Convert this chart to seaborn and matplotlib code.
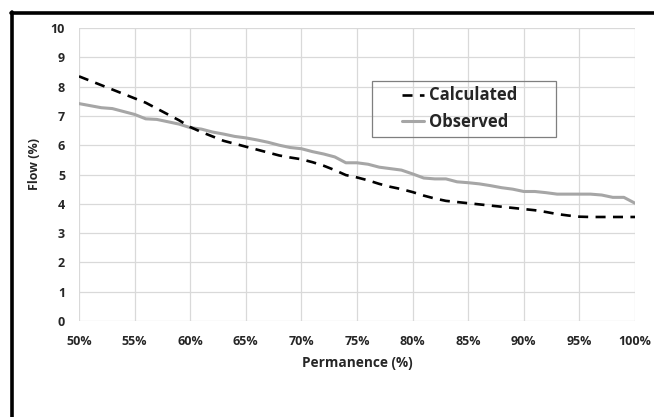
import numpy as np
import pandas as pd
import matplotlib
matplotlib.use("Agg")
import matplotlib.pyplot as plt
import seaborn as sns
from matplotlib.lines import Line2D
from matplotlib.patches import Rectangle
from matplotlib.ticker import FuncFormatter

permanence = list(range(50, 101))
calculated = [8.35, 8.2, 8.05, 7.9, 7.75, 7.6, 7.45, 7.25, 7.05, 6.85,
              6.62, 6.45, 6.3, 6.15, 6.05, 5.95, 5.85, 5.75, 5.65, 5.58,
              5.52, 5.42, 5.3, 5.15, 4.98, 4.9, 4.8, 4.68, 4.58, 4.5,
              4.4, 4.28, 4.18, 4.1, 4.06, 4.02, 3.98, 3.94, 3.9, 3.86,
              3.82, 3.78, 3.72, 3.65, 3.6, 3.56, 3.55, 3.55, 3.55, 3.55, 3.55]
observed = [7.42, 7.35, 7.28, 7.25, 7.15, 7.05, 6.9, 6.88, 6.8, 6.72,
            6.6, 6.55, 6.45, 6.38, 6.3, 6.25, 6.18, 6.1, 6.0, 5.92,
            5.88, 5.78, 5.7, 5.6, 5.4, 5.4, 5.35, 5.25, 5.2, 5.15,
            5.02, 4.88, 4.85, 4.85, 4.75, 4.72, 4.68, 4.62, 4.55, 4.5,
            4.42, 4.42, 4.38, 4.33, 4.33, 4.33, 4.33, 4.3, 4.22, 4.22, 4.02]
x_ticks = [50, 55, 60, 65, 70, 75, 80, 85, 90, 95, 100]
y_ticks = list(range(0, 11))

sns.set_style("white")
plt.rcParams['font.family'] = ['Open Sans', 'DejaVu Sans']
WT = 'bold'

fig = plt.figure(figsize=(6.54, 4.17), dpi=100)
W, H = 654, 417
ax = fig.add_axes([79 / W, 1 - 321 / H, (635 - 79) / W, (321 - 28) / H])

df = pd.DataFrame({"Permanence": permanence, "Calculated": calculated, "Observed": observed})

sns.lineplot(data=df, x="Permanence", y="Observed", ax=ax, color="#a6a6a6",
             linewidth=2.2, label="Observed", zorder=3)
sns.lineplot(data=df, x="Permanence", y="Calculated", ax=ax, color="black",
             linewidth=1.9, label="Calculated", zorder=4)
ax.lines[1].set_dashes([3.8, 2.8])

ax.set_xlim(50, 100)
ax.set_ylim(0, 10)
ax.set_xticks(x_ticks)
ax.set_yticks(y_ticks)
ax.xaxis.set_major_formatter(FuncFormatter(lambda v, p: f"{int(v)}%"))
ax.grid(True, color="#d9d9d9", linewidth=0.9)
ax.set_axisbelow(True)
for s in ax.spines.values():
    s.set_visible(False)
ax.tick_params(axis="both", length=0, labelsize=9)
ax.tick_params(axis="x", pad=10)
ax.tick_params(axis="y", pad=10)
for lab in ax.get_xticklabels() + ax.get_yticklabels():
    lab.set_fontweight(WT)

ax.set_xlabel("Permanence (%)", fontsize=9.8, fontweight=WT)
ax.set_ylabel("Flow (%)", fontsize=9, fontweight=WT)
ax.xaxis.set_label_coords(0.5, -0.118)
ax.yaxis.set_label_coords(-0.068, 0.536)

handles, labels = ax.get_legend_handles_labels()
order = [labels.index("Calculated"), labels.index("Observed")]
leg = ax.legend([handles[i] for i in order], [labels[i] for i in order],
                loc="center left", bbox_to_anchor=((402 - 79) / 556, (321 - 108.5) / 293),
                frameon=False, handlelength=1.3, handletextpad=0.3,
                labelspacing=0.5, borderpad=0.0, borderaxespad=0.0,
                prop={'weight': WT, 'size': 12})
ax.add_patch(Rectangle(((372 - 79) / 556, (321 - 137) / 293), (556 - 372) / 556, (137 - 81) / 293,
                       transform=ax.transAxes, fill=False, edgecolor="#7f7f7f", linewidth=0.9,
                       zorder=5))

# outer frame (left and top edges)
fig.add_artist(Line2D([12 / W, 12 / W], [0, 1 - 12 / H], color="black", linewidth=2.6,
                      transform=fig.transFigure))
fig.add_artist(Line2D([11 / W, 1], [1 - 12.5 / H, 1 - 12.5 / H], color="black", linewidth=2.6,
                      transform=fig.transFigure))

fig.savefig("out.png", dpi=100, facecolor="white")
